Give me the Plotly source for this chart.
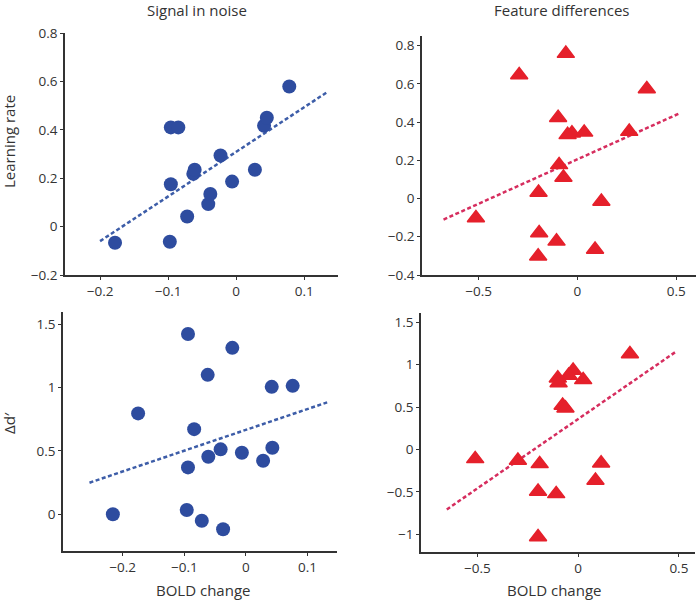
import plotly.graph_objects as go

W, H = 697, 602

# ---- data ----
# Signal in noise: BOLD change vs learning rate
sn_lr_x = [-0.178, -0.0975, -0.096, -0.085, -0.096, -0.072, -0.063, -0.061, -0.041, -0.038,
           -0.023, -0.006, 0.0275, 0.041, 0.045, 0.078]
sn_lr_y = [-0.067, -0.0625, 0.41, 0.41, 0.175, 0.042, 0.218, 0.235, 0.093, 0.135,
           0.294, 0.186, 0.235, 0.417, 0.45, 0.579]
sn_lr_fit_x = [-0.2, 0.135]
sn_lr_fit_y = [-0.06, 0.558]

# Signal in noise: BOLD change vs delta d'
sn_dp_x = [-0.216, -0.175, -0.094, -0.022, -0.062, 0.042, 0.076, -0.084, -0.041, -0.061,
           -0.094, -0.0065, 0.028, 0.043, -0.096, -0.0716, -0.037]
sn_dp_y = [-0.002, 0.797, 1.426, 1.316, 1.102, 1.007, 1.015, 0.672, 0.512, 0.453,
           0.369, 0.485, 0.422, 0.525, 0.032, -0.053, -0.121]
sn_dp_fit_x = [-0.254, 0.132]
sn_dp_fit_y = [0.248, 0.884]

# Feature differences: BOLD change vs learning rate
fd_lr_x = [-0.059, -0.295, 0.351, -0.098, -0.028, -0.05, 0.034, 0.262, -0.093, -0.071,
           -0.197, 0.121, -0.514, -0.194, -0.106, -0.199, 0.089]
fd_lr_y = [0.758, 0.646, 0.573, 0.423, 0.341, 0.333, 0.346, 0.35, 0.176, 0.11,
           0.032, -0.015, -0.102, -0.18, -0.224, -0.302, -0.267]
fd_lr_fit_x = [-0.678, 0.511]
fd_lr_fit_y = [-0.11, 0.443]

# Feature differences: BOLD change vs delta d'
fd_dp_x = [0.257, -0.025, -0.047, -0.101, -0.097, 0.025, -0.077, -0.063, -0.511, -0.299,
           -0.191, 0.114, 0.086, -0.199, -0.109, -0.199]
fd_dp_y = [1.127, 0.931, 0.872, 0.84, 0.785, 0.821, 0.518, 0.487, -0.111, -0.13,
           -0.17, -0.162, -0.366, -0.496, -0.524, -1.034]
fd_dp_fit_x = [-0.652, 0.484]
fd_dp_fit_y = [-0.708, 1.151]

col_titles = ["Signal in noise", "Feature differences"]
y_titles = ["Learning rate", "Δd′"]
x_title = "BOLD change"

BLUE = "#2E4C9F"
BLUE_LINE = "#3D5DA8"
RED = "#E5202B"
RED_LINE = "#D62D5E"
TXT = "#333333"
FONT = "Open Sans"

fig = go.Figure()

def px_dom(a, b, total):
    return [a / total, b / total]

def py_dom(top, bottom):
    return [1 - bottom / H, 1 - top / H]

panels = [
    ("x", "y", sn_lr_x, sn_lr_y, sn_lr_fit_x, sn_lr_fit_y, BLUE, BLUE_LINE, "circle",
     px_dom(65, 338, W), py_dom(33, 275), [-0.2515, 0.1496], [-0.2, 0.8], 0.1, 0.2),
    ("x2", "y2", fd_lr_x, fd_lr_y, fd_lr_fit_x, fd_lr_fit_y, RED, RED_LINE, "triangle-up",
     px_dom(422, 696, W), py_dom(36, 275), [-0.787, 0.6], [-0.4, 0.85], 0.5, 0.2),
    ("x3", "y3", sn_dp_x, sn_dp_y, sn_dp_fit_x, sn_dp_fit_y, BLUE, BLUE_LINE, "circle",
     px_dom(63, 337, W), py_dom(312, 551), [-0.297, 0.148], [-0.293, 1.6], 0.1, 0.5),
    ("x4", "y4", fd_dp_x, fd_dp_y, fd_dp_fit_x, fd_dp_fit_y, RED, RED_LINE, "triangle-up",
     px_dom(421, 695, W), py_dom(313, 552), [-0.78, 0.58], [-1.21, 1.61], 0.5, 0.5),
]

layout_axes = {}
for (xa, ya, xs, ys, fx, fy, c, lc, sym, xd, yd, xr, yr, xdt, ydt) in panels:
    fig.add_trace(go.Scatter(x=fx, y=fy, mode="lines", xaxis=xa, yaxis=ya,
                             line=dict(color=lc, width=2.5, dash="4px,2.5px"),
                             showlegend=False, hoverinfo="skip"))
    if sym == "circle":
        marker = dict(symbol="circle", size=14, color=c, line=dict(width=0))
    else:
        marker = dict(symbol="triangle-up", size=15, color=c, line=dict(width=1.5, color=c))
    fig.add_trace(go.Scatter(x=xs, y=ys, mode="markers", xaxis=xa, yaxis=ya,
                             marker=marker, showlegend=False, cliponaxis=False))
    common = dict(showgrid=False, zeroline=False, showline=True, linecolor=TXT, linewidth=1.5,
                  ticks="outside", ticklen=3, tickcolor=TXT, tickwidth=1.2, automargin=False,
                  tickfont=dict(family=FONT, size=13.5, color=TXT), mirror=False)
    xkey = "xaxis" if xa == "x" else "xaxis" + xa[1:]
    ykey = "yaxis" if ya == "y" else "yaxis" + ya[1:]
    layout_axes[xkey] = dict(common, domain=xd, range=xr, dtick=xdt, tick0=0, anchor=ya)
    layout_axes[ykey] = dict(common, domain=yd, range=yr, dtick=ydt, tick0=0, anchor=xa)

annotations = [
    dict(text=col_titles[0], x=197 / W, y=1 - 10 / H, xref="paper", yref="paper",
         showarrow=False, xanchor="center", yanchor="middle",
         font=dict(family=FONT, size=15, color=TXT)),
    dict(text=col_titles[1], x=561.7 / W, y=1 - 10 / H, xref="paper", yref="paper",
         showarrow=False, xanchor="center", yanchor="middle",
         font=dict(family=FONT, size=15, color=TXT)),
    dict(text=y_titles[0], x=9 / W, y=1 - 142 / H, xref="paper", yref="paper",
         showarrow=False, xanchor="center", yanchor="middle", textangle=-90,
         font=dict(family=FONT, size=15, color=TXT)),
    dict(text=y_titles[1], x=9 / W, y=1 - 423 / H, xref="paper", yref="paper",
         showarrow=False, xanchor="center", yanchor="middle", textangle=-90,
         font=dict(family=FONT, size=15, color=TXT)),
    dict(text=x_title, x=203 / W, y=1 - 590 / H, xref="paper", yref="paper",
         showarrow=False, xanchor="center", yanchor="middle",
         font=dict(family=FONT, size=15, color=TXT)),
    dict(text=x_title, x=554.3 / W, y=1 - 590 / H, xref="paper", yref="paper",
         showarrow=False, xanchor="center", yanchor="middle",
         font=dict(family=FONT, size=15, color=TXT)),
]

fig.update_layout(width=W, height=H,
                  margin=dict(l=0, r=0, t=0, b=0, pad=0, autoexpand=False),
                  paper_bgcolor="white", plot_bgcolor="white",
                  annotations=annotations, **layout_axes)

fig.write_html("out.html", config={"displayModeBar": False},
               post_script="document.body.style.margin='0px';document.body.style.overflow='hidden';")
